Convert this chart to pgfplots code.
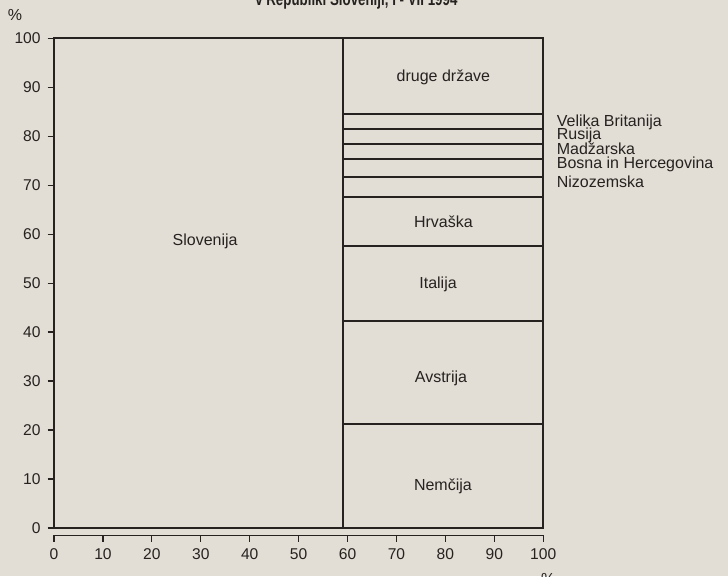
\documentclass[border=0pt]{standalone}
\usepackage{pgfplots}
\pgfplotsset{compat=1.18}
\usepackage{fontspec}
\setmainfont{Liberation Sans}
\usetikzlibrary{backgrounds}
\definecolor{ink}{RGB}{38,34,32}
\definecolor{paper}{RGB}{226,222,213}
\tikzset{lab/.style={font=\fontsize{8}{8}\selectfont, text=ink, text height=5.7pt, text depth=0pt, inner sep=0pt}}
\newcommand\seg[2]{\addplot[ink, line width=1pt, mark=none] coordinates {(59,#1) (100,#1) (100,#2) (59,#2)} --cycle;}
\begin{document}
\begin{tikzpicture}
\begin{axis}[
  scale only axis, width=244.5pt, height=244.7pt,
  xmin=0, xmax=100, ymin=0, ymax=100, clip=false,
  axis x line=bottom, axis y line=left,
  axis x line shift=3.65pt,
  axis line style={-, draw=ink},
  x axis line style={line width=0.7pt},
  y axis line style={line width=1.1pt},
  xtick={0,10,...,100}, ytick={0,10,...,100},
  tick align=outside, major tick length=3.2pt,
  tick style={draw=ink, line width=0.6pt},
  ticklabel style={font=\fontsize{7.8}{8}\selectfont, text=ink},
  /pgf/number format/assume math mode=true,
]
\coordinate (bl) at (rel axis cs:0,0);
\coordinate (tr) at (rel axis cs:1,1);
% Slovenija
\addplot[ink, line width=1.1pt, mark=none] coordinates {(0,0) (59,0) (59,100) (0,100)} --cycle;
% other countries
\seg{0}{21.3}
\seg{21.3}{42.3}
\seg{42.3}{57.5}
\seg{57.5}{67.5}
\seg{67.5}{71.6}
\seg{71.6}{75.4}
\seg{75.4}{78.4}
\seg{78.4}{81.4}
\seg{81.4}{84.5}
\seg{84.5}{100}
\addplot[ink, line width=1.1pt, mark=none] coordinates {(59,0) (100,0) (100,100) (59,100)} --cycle;
% labels
\node[lab] at (axis cs:30.9,58.8) {Slovenija};
\node[lab] at (axis cs:79.6,92.3) {druge države};
\node[lab] at (axis cs:79.6,62.5) {Hrvaška};
\node[lab] at (axis cs:78.5,50.0) {Italija};
\node[lab] at (axis cs:79.1,30.8) {Avstrija};
\node[lab] at (axis cs:79.5,8.9) {Nemčija};
\node[lab, anchor=west] at (axis cs:102.7,83.2) {Velika Britanija};
\node[lab, anchor=west] at (axis cs:102.7,80.5) {Rusija};
\node[lab, anchor=west] at (axis cs:102.7,77.4) {Madžarska};
\node[lab, anchor=west] at (axis cs:102.7,74.6) {Bosna in Hercegovina};
\node[lab, anchor=west] at (axis cs:102.7,70.6) {Nizozemska};
\node[lab] at (axis cs:-8,104.8) {\%};
\node[lab] at (axis cs:101,-10.3) {\%};
\node[anchor=base, font=\fontsize{9}{9}\selectfont\bfseries, text=ink, inner sep=0pt] at (axis cs:61.8,106.6) {\scalebox{0.74}[1]{v Republiki Sloveniji, I - VII 1994}};
\end{axis}
\pgfresetboundingbox
\path ([xshift=-27pt,yshift=-24.15pt]bl) rectangle ([xshift=92.35pt,yshift=19.15pt]tr);
\begin{scope}[on background layer]
\fill[paper] ([xshift=-27pt,yshift=-24.15pt]bl) rectangle ([xshift=92.35pt,yshift=19.15pt]tr);
\end{scope}
\end{tikzpicture}
\end{document}
